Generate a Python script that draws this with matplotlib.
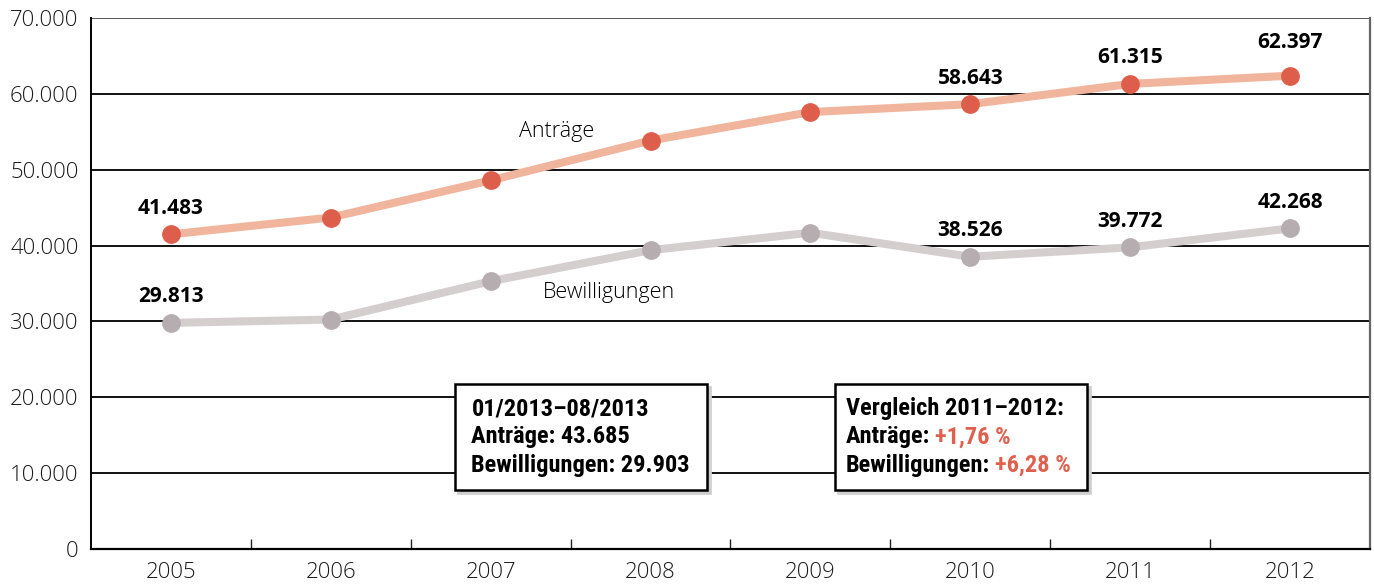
import matplotlib
matplotlib.use("Agg")
import matplotlib.pyplot as plt
from matplotlib import font_manager, transforms
from matplotlib.patches import Rectangle
from matplotlib.ticker import FuncFormatter, FixedLocator

# data
years = ["2005", "2006", "2007", "2008", "2009", "2010", "2011", "2012"]
antraege = [41483, 43700, 48600, 53850, 57600, 58643, 61315, 62397]
bewilligungen = [29813, 30250, 35300, 39400, 41700, 38526, 39772, 42268]
labelled = [0, 5, 6, 7]

box1_lines = ["01/2013–08/2013", "Anträge: 43.685", "Bewilligungen: 29.903"]
box2_title = "Vergleich 2011–2012:"
box2_keys = ["Anträge:", "Bewilligungen:"]
box2_vals = ["+1,76 %", "+6,28 %"]

ORANGE_LINE = "#f0b59c"
ORANGE_DOT = "#dd5f4b"
GREY_LINE = "#d4cecf"
GREY_DOT = "#b6adb1"
RED_TXT = "#e0604e"

plt.rcParams["font.family"] = ["Open Sans", "DejaVu Sans"]

# narrow font for the boxes, whatever is there
names = {f.name for f in font_manager.fontManager.ttflist}
narrow_fam = "Roboto"
for cand in ["Liberation Sans Narrow", "Roboto Condensed", "Open Sans Condensed", "Noto Sans Condensed"]:
    if cand in names:
        narrow_fam = cand
        break
narrow = [narrow_fam, "DejaVu Sans"]

fig = plt.figure(figsize=(13.74, 5.87), dpi=100)
ax = fig.add_axes([0.0662, 0.0647, 0.9309, 0.9046])

x = list(range(len(years)))
ax.plot(x, antraege, color=ORANGE_LINE, lw=5.8, solid_capstyle="round", zorder=3)
ax.plot(x, antraege, "o", color=ORANGE_DOT, ms=12.5, zorder=4)
ax.plot(x, bewilligungen, color=GREY_LINE, lw=5.8, solid_capstyle="round", zorder=3)
ax.plot(x, bewilligungen, "o", color=GREY_DOT, ms=12.5, zorder=4)

fmt = lambda v: f"{int(v):,}".replace(",", ".")
for i in labelled:
    for series in (antraege, bewilligungen):
        off = 33 if (series is antraege and i == 7) else 26
        ax.annotate(fmt(series[i]), (i, series[i]), xytext=(0, off * 0.72),
                    textcoords="offset points", ha="center", va="center",
                    fontsize=15, fontweight="bold", zorder=5)

ax.text(2.41, 55000, "Anträge", fontsize=15.5, fontweight="light", ha="center", va="center")
ax.text(2.74, 33850, "Bewilligungen", fontsize=15.5, fontweight="light", ha="center", va="center")

ax.set_xlim(-0.5, 7.5)
ax.set_ylim(0, 70000)
ax.set_yticks(range(0, 70001, 10000))
ax.yaxis.set_major_formatter(FuncFormatter(lambda v, p: "0" if v == 0 else fmt(v)))
ax.set_xticks(x)
ax.set_xticklabels(years)
ax.xaxis.set_minor_locator(FixedLocator([k + 0.5 for k in range(7)]))
ax.tick_params(axis="x", which="major", length=0, labelsize=16, pad=9, colors="#1a1a1a")
ax.tick_params(axis="x", which="minor", direction="in", length=7, width=1, color="#222222")
ax.tick_params(axis="y", length=0, labelsize=16, pad=9, colors="#1a1a1a")
for lab in ax.get_xticklabels() + ax.get_yticklabels():
    lab.set_fontweight("light")

for v in range(10000, 70001, 10000):
    ax.axhline(v, color="#111111" if v < 70000 else "#555555", lw=1.4, zorder=1)
ax.spines["left"].set_linewidth(1.4)
ax.spines["bottom"].set_linewidth(1.6)
ax.spines["top"].set_visible(False)
ax.spines["right"].set_color("#666666")
ax.spines["right"].set_linewidth(1.6)

shadow_tr = transforms.offset_copy(ax.transData, fig=fig, x=3, y=-3, units="dots")


def draw_box(x0, x1, y0, y1):
    ax.add_patch(Rectangle((x0, y0), x1 - x0, y1 - y0, facecolor="#bdbdbd",
                           edgecolor="#d0d0d0", lw=2, zorder=5, transform=shadow_tr))
    ax.add_patch(Rectangle((x0, y0), x1 - x0, y1 - y0, facecolor="white",
                           edgecolor="black", lw=1.8, zorder=6))


box_txt = dict(family=narrow, fontsize=15, fontweight="bold", va="center", ha="left", zorder=7)
line_y = [18500, 14800, 11000]

draw_box(1.775, 3.35, 7800, 21800)
texts = []
for txt, yy in zip(box1_lines, line_y):
    texts.append(ax.text(1.88, yy, txt, **box_txt))

draw_box(4.156, 5.73, 7800, 21800)
texts.append(ax.text(4.22, line_y[0], box2_title, **box_txt))
for key, val, yy in zip(box2_keys, box2_vals, line_y[1:]):
    t = ax.text(4.22, yy, key, **box_txt)
    texts.append(t)
    texts.append(ax.annotate(val, xy=(1, 0.5), xycoords=t, xytext=(4, 0),
                             textcoords="offset points", color=RED_TXT, **box_txt))

# fit the box text to the width seen in the reference (~219 px for the longest line)
fig.canvas.draw()
w = texts[2].get_window_extent().width
scale = 219.0 / w
for t in texts:
    t.set_fontsize(15 * scale)

fig.savefig("out.png", dpi=100)
